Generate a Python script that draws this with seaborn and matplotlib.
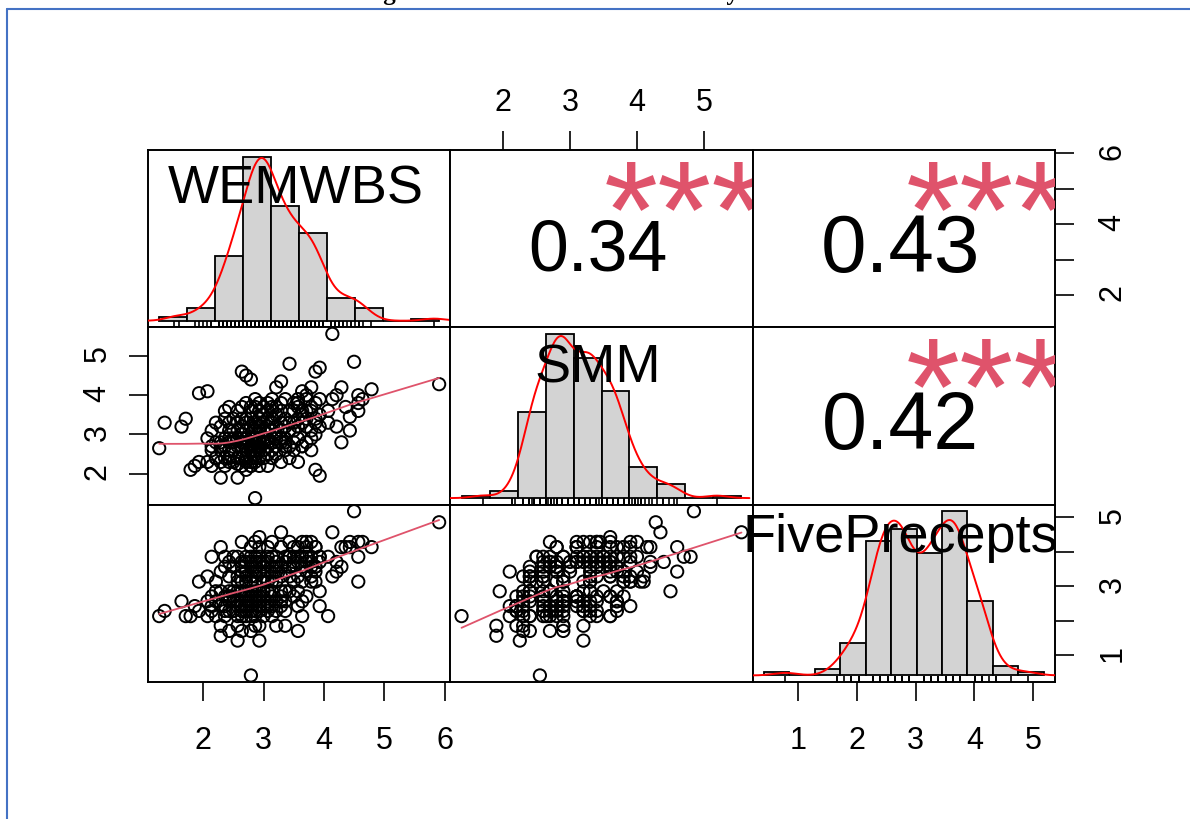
import numpy as np
import pandas as pd
import seaborn as sns
import matplotlib.pyplot as plt
from matplotlib.lines import Line2D

# ---- data: one value per respondent, same order in all three lists ----
wemwbs = [
    1.27, 1.36,
    1.64, 1.71, 1.86, 1.93, 1.93, 1.79,
    2.07, 2.07, 2.14, 2.14, 2.14, 2.21, 2.21, 2.21, 2.21, 2.29, 2.29, 2.29, 2.29, 2.29,
    2.36, 2.36, 2.36, 2.36, 2.36, 2.36, 2.43, 2.43, 2.43, 2.43, 2.43, 2.43, 2.43,
    2.14, 2.29, 2.07, 2.43,
    2.86, 2.79, 2.57, 2.93, 2.64, 2.71, 2.79, 2.93,
    2.50, 2.50, 2.50, 2.50, 2.50,
    2.57, 2.57, 2.57, 2.57, 2.57, 2.57, 2.57,
    2.64, 2.64, 2.64, 2.64, 2.64, 2.64, 2.64, 2.64,
    2.71, 2.71, 2.71, 2.71, 2.71, 2.71, 2.71, 2.71, 2.71, 2.71,
    2.79, 2.79, 2.79, 2.79, 2.79, 2.79, 2.79, 2.79, 2.79, 2.79,
    2.86, 2.86, 2.86, 2.86, 2.86, 2.86, 2.86, 2.86, 2.86, 2.86, 2.86,
    2.93, 2.93, 2.93, 2.93, 2.93, 2.93, 2.93, 2.93, 2.93, 2.93,
    2.50, 2.57, 2.64, 2.71, 2.79, 2.86, 2.93, 2.64, 2.79, 2.86,
    3.43, 3.29,
    3.00, 3.00, 3.00, 3.00, 3.00, 3.00, 3.00,
    3.07, 3.07, 3.07, 3.07, 3.07, 3.07, 3.07, 3.07,
    3.14, 3.14, 3.14, 3.14, 3.14, 3.14, 3.14, 3.14,
    3.21, 3.21, 3.21, 3.21, 3.21, 3.21, 3.21,
    3.29, 3.29, 3.29, 3.29, 3.29, 3.29,
    3.36, 3.36, 3.36, 3.36, 3.36, 3.36,
    3.43, 3.43, 3.43, 3.43, 3.43,
    3.00, 3.14, 3.21, 3.36, 3.07, 3.29,
    3.93, 3.86, 3.93, 3.86, 3.57,
    3.50, 3.50, 3.50, 3.50, 3.50, 3.50,
    3.57, 3.57, 3.57, 3.57, 3.57,
    3.64, 3.64, 3.64, 3.64, 3.64,
    3.71, 3.71, 3.71, 3.71, 3.71,
    3.79, 3.79, 3.79, 3.79, 3.79,
    3.86, 3.86, 3.86,
    3.93, 3.93, 3.93,
    3.64, 3.71, 3.57, 3.79, 3.86,
    4.14, 4.29, 4.29, 4.43, 4.07, 4.07, 4.14, 4.21, 4.36, 4.21, 4.43,
    4.50, 4.57, 4.57, 4.57, 4.79, 4.64,
    5.91,
]
smm = [
    2.65, 3.3,
    3.2, 3.4, 2.2, 2.3, 4.05, 2.1,
    4.1, 2.3, 2.6, 3.1, 2.2, 2.4, 2.8, 3.3, 2.4, 1.9, 2.7, 3.2, 2.6, 2.3,
    3.6, 2.9, 2.4, 2.7, 3.4, 2.2, 2.8, 3.7, 2.6, 2.3, 3.1, 2.9, 3.3,
    2.7, 2.8, 2.9, 2.4,
    1.38, 2.55, 2.25, 3.2, 4.6, 4.5, 4.4, 3.6,
    2.6, 3.1, 2.3, 2.8, 3.4,
    2.7, 3.3, 1.9, 2.9, 3.6, 2.4, 3.1,
    2.6, 3.2, 2.2, 2.8, 3.7, 2.4, 3.0, 2.7,
    2.9, 3.3, 2.3, 2.6, 3.8, 2.8, 3.1, 2.4, 3.4, 2.7,
    3.2, 2.6, 3.6, 2.9, 2.3, 3.4, 2.7, 2.6, 2.2, 3.7,
    2.8, 3.3, 2.4, 3.1, 2.6, 3.9, 2.9, 3.2, 2.3, 2.9, 2.7,
    2.7, 2.6, 3.4, 2.2, 2.9, 3.6, 2.4, 3.1, 2.8, 3.3,
    2.9, 2.4, 2.9, 2.1, 2.2, 2.5, 3.8, 3.4, 2.4, 3.7,
    4.8, 4.35,
    3.1, 2.6, 3.5, 2.8, 3.3, 2.4, 3.7,
    2.9, 3.4, 2.5, 3.2, 3.8, 2.7, 2.8, 2.2,
    3.6, 3.1, 2.6, 3.3, 2.8, 3.9, 2.4, 3.4,
    3.0, 3.7, 2.7, 3.2, 2.5, 3.5, 2.9,
    3.3, 2.8, 3.8, 2.3, 3.1, 3.6,
    2.6, 3.4, 2.9, 3.9, 2.8, 3.2,
    3.6, 2.7, 3.3, 2.4, 3.1,
    2.9, 3.7, 4.2, 2.7, 3.6, 2.9,
    4.7, 4.6, 1.95, 2.1, 2.3,
    3.3, 2.8, 3.8, 3.1, 3.6, 2.6,
    3.4, 3.9, 2.9, 3.2, 3.7,
    2.7, 3.5, 2.7, 4.1, 3.3,
    3.6, 2.8, 3.9, 3.2, 3.4,
    3.7, 3.1, 3.6, 2.9, 4.2,
    3.3, 3.8, 3.0,
    3.5, 3.9, 3.2,
    3.6, 4.0, 3.8, 2.6, 3.4,
    5.56, 4.2, 2.8, 3.45, 3.6, 3.3, 3.9, 3.2, 3.7, 4.0, 3.1,
    4.85, 3.8, 3.6, 4.0, 4.15, 3.9,
    4.28,
]
five = [
    2.14, 2.29,
    2.57, 2.14, 2.43, 2.29, 3.14, 2.14,
    3.29, 2.14, 2.43, 2.71, 2.29, 2.86, 2.57, 3.14, 2.14, 1.57, 2.86, 2.43, 3.43, 1.86,
    2.71, 2.29, 3.57, 2.14, 3.86, 2.43, 2.71, 2.57, 2.29, 2.71, 3.71, 1.71, 2.86,
    3.86, 4.14, 2.57, 3.29,
    2.14, 0.42, 1.43, 1.43, 3.43, 2.86, 3.71, 4.43,
    2.29, 2.71, 2.86, 2.57, 3.57,
    2.86, 2.43, 1.86, 3.29, 3.86, 2.14, 2.57,
    2.71, 3.14, 2.43, 3.57, 2.29, 2.86, 3.71, 1.71,
    2.57, 3.29, 2.14, 3.86, 3.14, 2.43, 2.71, 3.43, 2.29, 3.71,
    2.86, 2.14, 3.57, 3.14, 2.57, 4.14, 2.43, 3.29, 2.71, 3.86,
    2.29, 3.43, 2.86, 3.71, 2.57, 3.14, 1.86, 4.29, 3.29, 2.71, 3.57,
    2.43, 2.71, 3.86, 1.86, 2.86, 3.43, 2.57, 4.14, 2.29, 3.71,
    3.86, 3.14, 2.14, 2.43, 2.29, 3.86, 2.71, 4.29, 1.71, 3.43,
    3.86, 4.57,
    2.43, 3.29, 2.86, 3.71, 2.14, 2.71, 3.57,
    3.14, 2.57, 3.86, 2.29, 3.43, 2.86, 4.14, 2.43,
    3.29, 2.71, 3.57, 3.86, 2.14, 3.14, 2.86, 4.29,
    3.43, 2.57, 3.71, 2.29, 3.14, 3.86, 1.86,
    2.86, 3.57, 3.29, 2.43, 4.14, 2.71,
    2.86, 3.71, 2.57, 3.86, 3.43, 1.86,
    3.57, 2.86, 4.29, 3.29, 3.86,
    3.14, 2.43, 3.57, 2.29, 3.71, 2.57,
    3.86, 4.14, 2.86, 3.43, 1.71,
    3.57, 3.14, 3.86, 2.71, 4.14, 3.71,
    3.29, 3.71, 2.43, 3.86, 2.86,
    3.57, 3.86, 4.29, 3.14, 2.57,
    3.71, 3.43, 4.14, 3.86, 2.71,
    3.57, 4.29, 3.29, 3.86, 3.71,
    3.14, 4.14, 3.57,
    3.71, 2.43, 3.86,
    2.14, 4.29, 4.14, 3.14, 3.57,
    4.57, 4.14, 3.57, 4.29, 2.14, 3.86, 3.29, 3.71, 4.14, 3.43, 4.14,
    5.18, 3.14, 4.29, 3.86, 4.14, 4.29,
    4.86,
]

var_names = ["WEMWBS", "SMM", "FivePrecepts"]

# correlations shown in the upper panels: (WEMWBS,SMM), (WEMWBS,Five), (SMM,Five)
cor_values = [0.34, 0.43, 0.42]
cor_labels = ["0.34", "0.43", "0.42"]
cor_stars = ["***", "***", "***"]

# histogram breaks
w_breaks = [1.0, 1.5, 2.0, 2.5, 3.0, 3.5, 4.0, 4.5, 5.0, 5.5, 6.0]
s_breaks = [1.0, 1.5, 2.0, 2.5, 3.0, 3.5, 4.0, 4.5, 5.0, 5.5, 6.0]
f_breaks = [0.0, 0.5, 1.0, 1.5, 2.0, 2.5, 3.0, 3.5, 4.0, 4.5, 5.0, 5.5]

# outer axis ticks
w_ticks = [2, 3, 4, 5, 6]
w_tick_right = ["2", "", "4", "", "6"]
s_ticks = [2, 3, 4, 5]
f_ticks = [1, 2, 3, 4, 5]
f_tick_right = ["1", "", "3", "", "5"]

df = pd.DataFrame({"WEMWBS": wemwbs, "SMM": smm, "FivePrecepts": five})
breaks = {"WEMWBS": w_breaks, "SMM": s_breaks, "FivePrecepts": f_breaks}


def lowess(x, y, f=2 / 3, iters=3):
    # plain version of R's stats::lowess
    order = np.argsort(x, kind="mergesort")
    x = np.asarray(x, float)[order]
    y = np.asarray(y, float)[order]
    n = len(x)
    k = max(min(int(round(f * n)), n), 2)
    rw = np.ones(n)
    fit = np.zeros(n)
    for it in range(iters + 1):
        for i in range(n):
            d = np.abs(x - x[i])
            h = max(np.sort(d)[k - 1], 1e-12)
            w = np.clip(1 - (d / h) ** 3, 0, None) ** 3 * rw
            sw = w.sum()
            xm = (w * x).sum() / sw
            ym = (w * y).sum() / sw
            sxx = (w * (x - xm) ** 2).sum()
            b = (w * (x - xm) * (y - ym)).sum() / sxx if sxx > 1e-12 else 0.0
            fit[i] = ym + b * (x[i] - xm)
        res = y - fit
        cmad = 6 * np.median(np.abs(res))
        if cmad < 1e-9:
            break
        rw = np.clip(1 - (res / cmad) ** 2, 0, None) ** 2
    return x, fit


sns.set_style("white")
plt.rcParams["font.family"] = ["Liberation Sans", "DejaVu Sans"]
plt.rcParams["text.color"] = "black"

fig, axes = plt.subplots(3, 3, figsize=(11.9, 8.2), dpi=100)
fig.subplots_adjust(left=148 / 1190, right=1055 / 1190,
                    bottom=1 - 683 / 820, top=1 - 151 / 820,
                    wspace=0, hspace=0)

cols = list(df.columns)
lims = {}
for c in cols:
    lo, hi = df[c].min(), df[c].max()
    pad = 0.04 * (hi - lo)
    lims[c] = (lo - pad, hi + pad)

pair_index = {(0, 1): 0, (0, 2): 1, (1, 2): 2}
label_base = [0.705, 0.697, 0.738]
num_base = [0.328, 0.318, 0.322]
pink = "#DF536B"

for i in range(3):
    for j in range(3):
        ax = axes[i, j]
        xc, yc = cols[j], cols[i]
        if i > j:
            sns.scatterplot(x=df[xc], y=df[yc], ax=ax, marker="o", s=78,
                            facecolor="none", edgecolor="black",
                            linewidth=1.4, legend=False)
            lx, ly = lowess(df[xc].values, df[yc].values)
            ax.plot(lx, ly, color=pink, linewidth=1.3)
        elif i < j:
            k = pair_index[(i, j)]
            fs = 105 * (abs(cor_values[k]) + 0.3) / 1.3
            ax.text(0.488, num_base[k], cor_labels[k], transform=ax.transAxes,
                    ha="center", va="baseline", fontsize=fs, color="black")
            ax.text(0.775, 0.403, cor_stars[k], transform=ax.transAxes,
                    ha="center", va="baseline", fontsize=100, color=pink,
                    clip_on=True)
        else:
            c = cols[i]
            hax = ax.inset_axes([0, 0, 1, 1])
            sns.histplot(x=df[c], bins=breaks[c], stat="density",
                         color="#D3D3D3", edgecolor="black", linewidth=1.3,
                         alpha=1, ax=hax)
            sd = df[c].std()
            q75, q25 = np.percentile(df[c], [75, 25])
            bw = 0.9 * min(sd, (q75 - q25) / 1.34) * len(df) ** (-0.2)
            sns.kdeplot(x=df[c], bw_method=bw / sd, cut=3, gridsize=512,
                        color="red", linewidth=1.4, ax=hax)
            sns.rugplot(x=df[c], height=0.035, color="black", linewidth=1.2,
                        expand_margins=False, ax=hax)
            top = max(p.get_height() for p in hax.patches)
            b = breaks[c]
            span = b[-1] - b[0]
            hax.set_xlim(b[0] - 0.04 * span, b[-1] + 0.04 * span)
            hax.set_ylim(-0.04 * top, 1.04 * top)
            hax.set_xlabel("")
            hax.set_ylabel("")
            hax.set_axis_off()
            hax.text(0.488, label_base[i], var_names[i], transform=hax.transAxes,
                     ha="center", va="baseline", fontsize=39, color="black",
                     zorder=10)

        ax.set_xlim(lims[xc])
        ax.set_ylim(lims[yc])
        ax.set_xlabel("")
        ax.set_ylabel("")
        ax.set_xticks([])
        ax.set_yticks([])
        for sp in ax.spines.values():
            sp.set_visible(True)
            sp.set_color("black")
            sp.set_linewidth(1.4)

tick_kw = dict(length=13.5, width=1.2, labelsize=22, colors="black")

ax = axes[0, 1]
ax.xaxis.tick_top()
ax.set_xticks(s_ticks)
ax.tick_params(axis="x", top=True, bottom=False, labeltop=True,
               labelbottom=False, pad=10, **tick_kw)

ax = axes[2, 0]
ax.set_xticks(w_ticks)
ax.tick_params(axis="x", bottom=True, pad=17.5, **tick_kw)

ax = axes[2, 2]
ax.set_xticks(f_ticks)
ax.tick_params(axis="x", bottom=True, pad=17.5, **tick_kw)

ax = axes[1, 0]
ax.set_yticks(s_ticks)
ax.tick_params(axis="y", left=True, labelrotation=90, pad=12, **tick_kw)

for ax, ticks, labs in [(axes[0, 2], w_ticks, w_tick_right),
                        (axes[2, 2], f_ticks, f_tick_right)]:
    ax.yaxis.tick_right()
    ax.set_yticks(ticks, labs)
    ax.tick_params(axis="y", right=True, left=False, labelright=True,
                   labelleft=False, labelrotation=90, pad=17, **tick_kw)

# page frame and the clipped caption above it
fig.add_artist(Line2D([7 / 1190, 1], [1 - 9.5 / 820, 1 - 9.5 / 820],
                      transform=fig.transFigure, color="#4472C4", linewidth=1.5))
fig.add_artist(Line2D([7 / 1190, 7 / 1190], [0, 1 - 9.5 / 820],
                      transform=fig.transFigure, color="#4472C4", linewidth=1.5))
fig.text(0.505, 1 - 0.3 / 820, "Figure 4: Pearson correlation analysis results",
         ha="center", va="baseline", fontsize=18, fontweight="bold",
         family=["Liberation Serif", "DejaVu Serif"])

fig.savefig("out.png", dpi=100)
